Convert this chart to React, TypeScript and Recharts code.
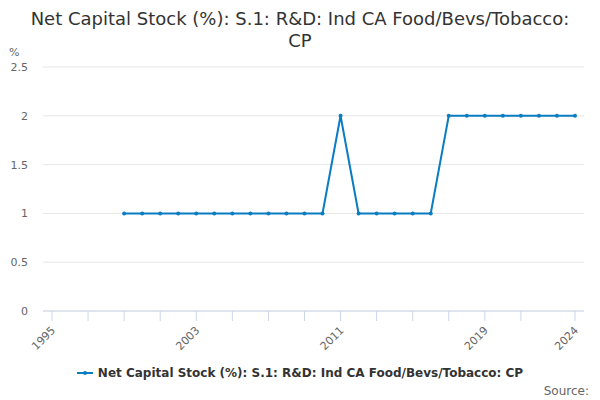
import React from "react";
import { LineChart, Line, XAxis, YAxis, CartesianGrid } from "recharts";

const years = [
  1995, 1996, 1997, 1998, 1999, 2000, 2001, 2002, 2003, 2004, 2005, 2006, 2007, 2008, 2009,
  2010, 2011, 2012, 2013, 2014, 2015, 2016, 2017, 2018, 2019, 2020, 2021, 2022, 2023, 2024,
];
const values: (number | null)[] = [
  null, null, null, null, 1, 1, 1, 1, 1, 1, 1, 1, 1, 1, 1,
  1, 2, 1, 1, 1, 1, 1, 2, 2, 2, 2, 2, 2, 2, 2,
];
const xTicks = [1995, 1997, 1999, 2001, 2003, 2005, 2007, 2009, 2011, 2013, 2015, 2017, 2019, 2021, 2024];
const xLabels = [1995, 2003, 2011, 2019, 2024];
const yTicks = [0, 0.5, 1, 1.5, 2, 2.5];

const title = "Net Capital Stock (%): S.1: R&D: Ind CA Food/Bevs/Tobacco: CP";
const seriesName = "Net Capital Stock (%): S.1: R&D: Ind CA Food/Bevs/Tobacco: CP";

const data = years.map((y, i) => ({ year: y, value: values[i] }));

const LINE = "#0a7cc1";
const FONT = "'DejaVu Sans', sans-serif";

const YearTick = (props: any) => {
  const { x, y, payload } = props;
  if (!xLabels.includes(payload.value)) return null;
  return (
    <text
      x={x + 4}
      y={y + 8}
      transform={`rotate(-45, ${x + 4}, ${y + 8})`}
      textAnchor="end"
      fill="#666"
      fontSize={11}
      fontFamily={FONT}
    >
      {payload.value}
    </text>
  );
};

export default function App() {
  return (
    <div style={{ position: "absolute", left: 0, top: 0, width: 600, height: 400, background: "#fff", fontFamily: FONT }}>
      <div
        style={{
          position: "absolute",
          left: 30,
          top: 8,
          width: 540,
          textAlign: "center",
          fontSize: 18,
          lineHeight: "22px",
          color: "#333",
        }}
      >
        {title}
      </div>
      <div style={{ position: "absolute", left: 9, top: 46, fontSize: 11, color: "#666" }}>%</div>
      <LineChart
        width={600}
        height={400}
        data={data}
        margin={{ top: 67, right: 16, bottom: 49, left: 8 }}
        style={{ position: "absolute", left: 0, top: 0 }}
      >
        <CartesianGrid vertical={false} stroke="#e6e6e6" />
        <XAxis
          dataKey="year"
          type="category"
          scale="point"
          padding={{ left: 9, right: 9 }}
          ticks={xTicks}
          interval={0}
          tick={<YearTick />}
          tickSize={10}
          axisLine={{ stroke: "#ccd6eb" }}
          tickLine={{ stroke: "#ccd6eb" }}
          height={40}
        />
        <YAxis
          width={35}
          domain={[0, 2.5]}
          ticks={yTicks}
          interval={0}
          axisLine={false}
          tickLine={false}
          tickSize={6}
          tickMargin={9}
          tick={{ fill: "#666", fontSize: 11, fontFamily: FONT }}
        />
        <Line
          dataKey="value"
          stroke={LINE}
          strokeWidth={2}
          dot={{ r: 2, fill: LINE, stroke: LINE, strokeWidth: 0 }}
          activeDot={false}
          connectNulls={false}
          isAnimationActive={false}
        />
      </LineChart>
      <div
        style={{
          position: "absolute",
          left: 0,
          width: 600,
          top: 366,
          textAlign: "center",
          fontSize: 12,
          fontWeight: "bold",
          color: "#333",
          display: "flex",
          justifyContent: "center",
          alignItems: "center",
        }}
      >
        <svg width={16} height={10} style={{ marginRight: 5 }}>
          <line x1={0} y1={5} x2={16} y2={5} stroke={LINE} strokeWidth={2} />
          <circle cx={8} cy={5} r={2} fill={LINE} />
        </svg>
        <span>{seriesName}</span>
      </div>
      <div style={{ position: "absolute", right: 11, top: 384, fontSize: 12, color: "#666" }}>Source:</div>
    </div>
  );
}
